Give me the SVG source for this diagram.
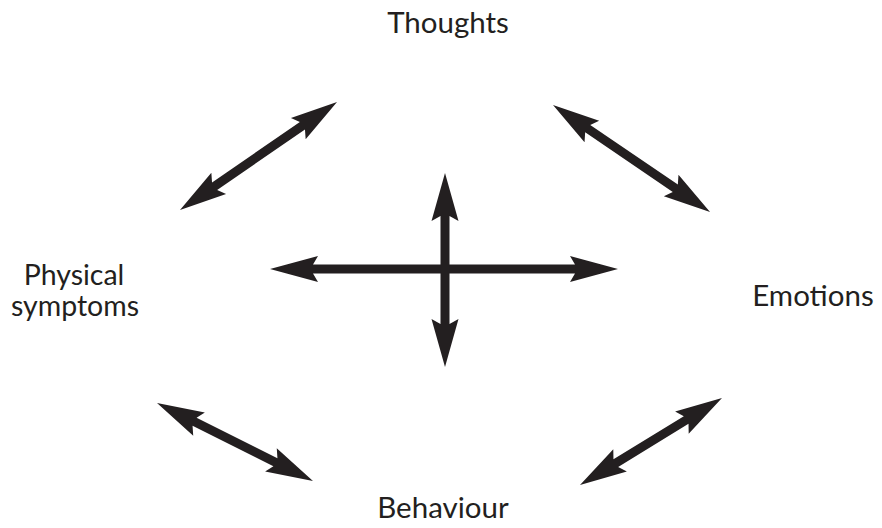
<svg xmlns="http://www.w3.org/2000/svg" width="882" height="528" viewBox="0 0 882 528">
<style>
.lbl{font-family:Lato,"Noto Sans","Liberation Sans",sans-serif;font-size:29.5px;fill:#231f20;text-anchor:middle}
.sm{font-size:28.5px}
.arr{fill:#231f20}
</style>
<rect width="882" height="528" fill="#ffffff"/>
<g id="thoughts"><text class="lbl" x="448" y="33">Thoughts</text></g>
<g id="physical"><text class="lbl sm"><tspan x="74" y="285">Physical</tspan><tspan x="75" y="316">symptoms</tspan></text></g>
<g id="emotions"><text class="lbl" x="813" y="306">Emotions</text></g>
<g id="behaviour"><text class="lbl" x="443" y="518">Behaviour</text></g>
<g id="connectors">
<polygon class="arr" transform="translate(180,210) rotate(-34.53)" points="0,0 47,-13 42,-4.5 148.6,-4.5 143.6,-13 190.6,0 143.6,13 148.6,4.5 42,4.5 47,13"/>
<polygon class="arr" transform="translate(553,105) rotate(34.27)" points="0,0 47,-13 42,-4.5 148,-4.5 143,-13 190,0 143,13 148,4.5 42,4.5 47,13"/>
<polygon class="arr" transform="translate(157,403) rotate(26.57)" points="0,0 47,-13 42,-4.5 132.4,-4.5 127.4,-13 174.4,0 127.4,13 132.4,4.5 42,4.5 47,13"/>
<polygon class="arr" transform="translate(580,485) rotate(-31.49)" points="0,0 47,-13 42,-4.5 124.5,-4.5 119.5,-13 166.5,0 119.5,13 124.5,4.5 42,4.5 47,13"/>
<polygon class="arr" transform="translate(270,269)" points="0,0 48,-13 43,-4.5 305,-4.5 300,-13 348,0 300,13 305,4.5 43,4.5 48,13"/>
<polygon class="arr" transform="translate(445,173) rotate(90)" points="0,0 48,-13.5 43,-4.5 151,-4.5 146,-13.5 194,0 146,13.5 151,4.5 43,4.5 48,13.5"/>
</g>
</svg>
